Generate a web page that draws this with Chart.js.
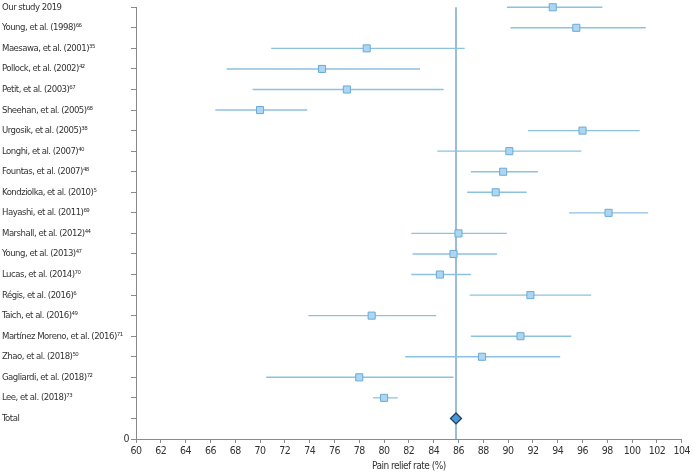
<!DOCTYPE html>
<html>
<head>
<meta charset="utf-8">
<script src="https://cdn.jsdelivr.net/npm/chart.js@4"></script>
<style>
  body { margin: 0; background: #fff; }
  #wrap { width: 693px; height: 473px; }
</style>
</head>
<body>
<div id="wrap"><canvas id="forest"></canvas></div>
<script>
// studies, top to bottom
const studies = [
  "Our study 2019",
  "Young, et al. (1998)⁶⁶",
  "Maesawa, et al. (2001)³⁵",
  "Pollock, et al. (2002)⁴²",
  "Petit, et al. (2003)⁶⁷",
  "Sheehan, et al. (2005)⁶⁸",
  "Urgosik, et al. (2005)³⁸",
  "Longhi, et al. (2007)⁴⁰",
  "Fountas, et al. (2007)⁴⁸",
  "Kondziolka, et al. (2010)⁵",
  "Hayashi, et al. (2011)⁶⁹",
  "Marshall, et al. (2012)⁴⁴",
  "Young, et al. (2013)⁴⁷",
  "Lucas, et al. (2014)⁷⁰",
  "Régis, et al. (2016)⁶",
  "Taich, et al. (2016)⁴⁹",
  "Martínez Moreno, et al. (2016)⁷¹",
  "Zhao, et al. (2018)⁵⁰",
  "Gagliardi, et al. (2018)⁷²",
  "Lee, et al. (2018)⁷³"
];
const rates = [93.6, 95.5, 78.6, 75.0, 77.0, 70.0, 96.0, 90.1, 89.6, 89.0, 98.1, 86.0, 85.6, 84.5, 91.8, 79.0, 91.0, 87.9, 78.0, 80.0];
const lower = [89.9, 90.2, 70.9, 67.3, 69.4, 66.4, 91.6, 84.3, 87.0, 86.7, 94.9, 82.2, 82.3, 82.2, 86.9, 73.9, 87.0, 81.7, 70.5, 79.1];
const upper = [97.6, 101.1, 86.5, 82.9, 84.8, 73.8, 100.6, 95.9, 92.4, 91.5, 101.3, 89.9, 89.1, 87.0, 96.7, 84.2, 95.1, 94.2, 85.6, 81.1];
const totalLabel = "Total";
const pooled = 85.8;
const xMin = 60, xMax = 104, xStep = 2;

const rowLabels = [...studies, totalLabel];
const nRows = rowLabels.length;          // Our study -> 21, Total -> 1
const rowY = i => nRows - i;

const markers = rates.map((v, i) => ({ x: v, y: rowY(i) }));
const ciLines = [];
studies.forEach((s, i) => {
  ciLines.push({ x: lower[i], y: rowY(i) }, { x: upper[i], y: rowY(i) }, { x: null, y: null });
});

const family = "'DejaVu Sans Condensed', 'Liberation Sans', sans-serif";
const nameFont = { family, size: 9.5, lineHeight: 0.8 };
const tickFont = { family, size: 10.5, lineHeight: 1 };
const titleFont = { family, size: 10, lineHeight: 1 };
const axisColor = "#8a8a8a";

// the reference uses a narrow face, squeeze the condensed one a bit
const tightText = {
  id: "tightText",
  beforeLayout(c) { c.ctx.letterSpacing = "-0.5px"; },
  beforeDraw(c) { c.ctx.letterSpacing = "-0.5px"; }
};

new Chart(document.getElementById("forest"), {
  type: "scatter",
  plugins: [tightText],
  data: {
    datasets: [
      {
        label: "pooled",
        data: [{ x: pooled, y: 1 }],
        pointStyle: "rectRot",
        pointRadius: 5.5,
        backgroundColor: "#4d96d8",
        borderColor: "#1f3f5f",
        borderWidth: 1.3,
        clip: false
      },
      {
        label: "rates",
        data: markers,
        pointStyle: "rect",
        pointRadius: 5,
        backgroundColor: "#acd6f2",
        borderColor: "#6caad6",
        borderWidth: 1,
        clip: false
      },
      {
        type: "line",
        label: "ci",
        data: ciLines,
        borderColor: "#8cc1e0",
        borderWidth: 1.4,
        pointRadius: 0,
        spanGaps: false,
        clip: false
      },
      {
        type: "line",
        label: "ref",
        data: [{ x: pooled, y: 0 }, { x: pooled, y: nRows }],
        borderColor: "#5b8fbd",
        borderWidth: 1.2,
        pointRadius: 0,
        clip: false
      }
    ]
  },
  options: {
    responsive: true,
    maintainAspectRatio: false,
    animation: false,
    layout: { padding: { left: 2, top: 0, right: 8, bottom: 2 } },
    plugins: { legend: { display: false }, tooltip: { enabled: false } },
    scales: {
      x: {
        type: "linear",
        min: xMin,
        max: xMax,
        ticks: { stepSize: xStep, font: tickFont, color: "#333", padding: 3, maxRotation: 0 },
        grid: { drawOnChartArea: false, tickLength: 4, color: axisColor },
        border: { color: axisColor },
        title: { display: true, text: "Pain relief rate (%)", font: titleFont, color: "#333", padding: { top: 3, bottom: 0 } },
        afterFit: s => { s.height = 32; }
      },
      y: {
        type: "linear",
        position: "left",
        weight: 0,
        min: 0,
        max: nRows,
        ticks: { stepSize: 1, autoSkip: false, font: tickFont, color: "#333", padding: 2,
                 callback: v => (v === 0 ? "0" : "") },
        grid: { drawOnChartArea: false, tickLength: 5, color: axisColor },
        border: { color: axisColor },
        afterFit: s => { s.width = 12; }
      },
      names: {
        type: "linear",
        position: "left",
        weight: 1,
        min: 0,
        max: nRows,
        ticks: { stepSize: 1, autoSkip: false, crossAlign: "far", font: nameFont, color: "#333",
                 callback: v => (v === 0 ? "" : rowLabels[nRows - v]) },
        grid: { display: false },
        border: { display: false },
        afterFit: s => { s.width = 122; }
      }
    }
  }
});
</script>
</body>
</html>
